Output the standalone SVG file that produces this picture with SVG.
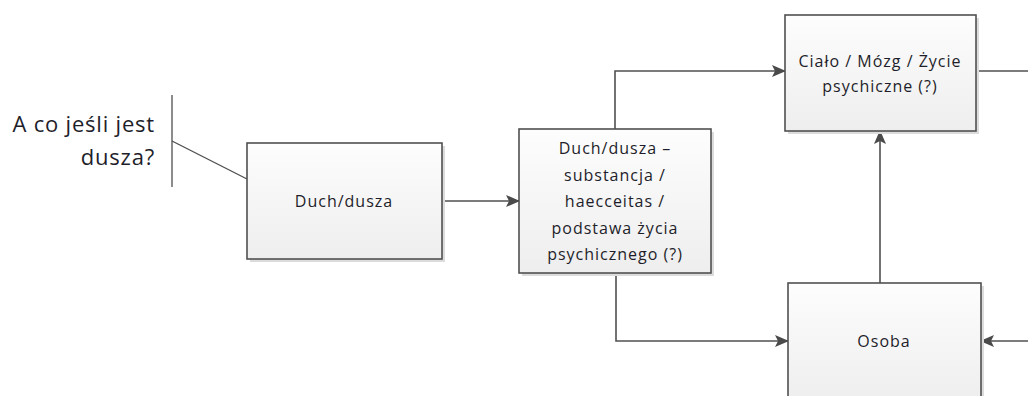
<svg xmlns="http://www.w3.org/2000/svg" width="1028" height="396" viewBox="0 0 1028 396">
<defs>
<linearGradient id="g" x1="0" y1="0" x2="0" y2="1">
<stop offset="0" stop-color="#fdfdfd"/>
<stop offset="1" stop-color="#eeeeee"/>
</linearGradient>
<marker id="arr" markerWidth="14" markerHeight="12" refX="13" refY="6" orient="auto" markerUnits="userSpaceOnUse">
<path d="M0,0 L14,6 L0,12 L3,6 Z" fill="#4a4a4a"/>
</marker>
<style>
.box{fill:url(#g);stroke:#505050;stroke-width:1.6}
.sh{fill:#dcdcdc}
.t{font-family:"Open Sans","Liberation Sans",sans-serif;font-size:16px;letter-spacing:1px;fill:#1e1e2a;text-anchor:middle}
.ln{fill:none;stroke:#505050;stroke-width:1.6}
.ann{font-family:"Open Sans","Liberation Sans",sans-serif;font-size:22px;letter-spacing:0.8px;fill:#1e1e2a;text-anchor:end}
</style>
</defs>
<rect width="1028" height="396" fill="#fff"/>
<g id="annotation">
<line x1="172" y1="95" x2="172" y2="187" stroke="#707070" stroke-width="1.6"/>
<line x1="172" y1="141" x2="247" y2="179" stroke="#505050" stroke-width="1.4"/>
<text class="ann" x="155" y="132">A co jeśli jest</text>
<text class="ann" x="155" y="165">dusza?</text>
</g>
<g id="connectors">
<line class="ln" x1="442" y1="201" x2="519" y2="201" marker-end="url(#arr)"/>
<polyline class="ln" points="615,129 615,71 785,71" marker-end="url(#arr)"/>
<line class="ln" x1="976" y1="71" x2="1028" y2="71"/>
<line class="ln" x1="880" y1="283" x2="880" y2="131" marker-end="url(#arr)"/>
<polyline class="ln" points="616,273 616,341 788,341" marker-end="url(#arr)"/>
<line class="ln" x1="1028" y1="341" x2="981" y2="341" marker-end="url(#arr)"/>
</g>
<g id="duch-dusza">
<rect class="sh" x="250" y="146" width="195" height="116"/>
<rect class="box" x="247" y="143" width="195" height="116"/>
<text class="t" x="344" y="207">Duch/dusza</text>
</g>
<g id="duch-substancja">
<rect class="sh" x="522" y="132" width="192" height="144"/>
<rect class="box" x="519" y="129" width="192" height="144"/>
<text class="t" x="615" y="154">Duch/dusza –</text>
<text class="t" x="615" y="181">substancja /</text>
<text class="t" x="615" y="207">haecceitas /</text>
<text class="t" x="615" y="234">podstawa życia</text>
<text class="t" x="615" y="260">psychicznego (?)</text>
</g>
<g id="cialo">
<rect class="sh" x="788" y="18" width="191" height="116"/>
<rect class="box" x="785" y="15" width="191" height="116"/>
<text class="t" x="880" y="67">Ciało / Mózg / Życie</text>
<text class="t" x="880" y="92">psychiczne (?)</text>
</g>
<g id="osoba">
<rect class="sh" x="791" y="286" width="193" height="120"/>
<rect class="box" x="788" y="283" width="193" height="120"/>
<text class="t" x="884" y="347">Osoba</text>
</g>
</svg>
